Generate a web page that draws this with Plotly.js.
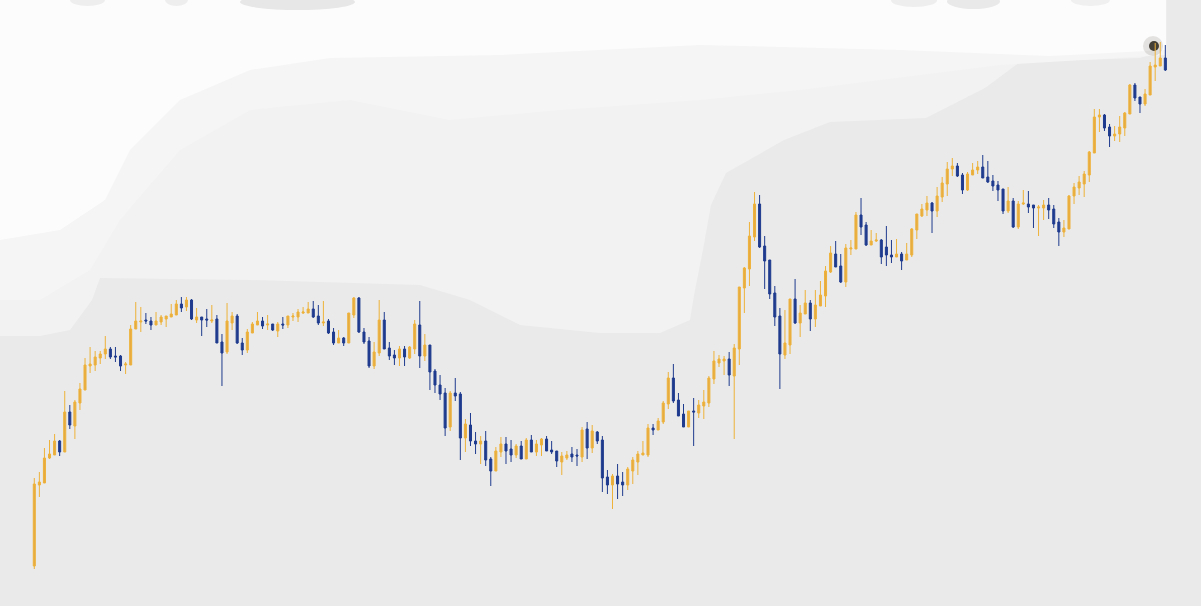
<!DOCTYPE html>
<html>
<head>
<meta charset="utf-8">
<script src="https://cdn.plot.ly/plotly-3.0.1.min.js"></script>
<style>html,body{margin:0;padding:0;background:#e9eae9;}#chart{width:1201px;height:606px;}</style>
</head>
<body>
<div id="chart"></div>
<script>
const open = [40,121,123,148,151,165,154,194,180,203,216,240,241,248,252,257,250,250,241,241,277,284,286,285,281,284,287,289,291,302,299,306,286,289,287,285,287,264,254,283,290,263,256,273,281,285,281,282,275,282,281,289,289,293,293,297,290,283,285,274,263,268,263,291,308,274,265,240,253,286,258,251,248,257,248,257,281,250,261,235,221,213,179,213,212,168,181,165,162,165,147,135,154,162,157,151,160,147,166,154,161,167,156,155,144,148,152,151,149,177,158,174,166,129,121,130,124,121,135,144,151,151,178,176,184,202,228,206,192,179,195,193,200,203,227,243,245,247,230,257,318,337,369,402,360,346,313,290,251,261,307,283,292,303,287,300,310,334,352,340,324,357,357,391,381,361,365,366,359,351,349,352,346,351,376,390,396,403,395,409,422,437,440,431,416,431,436,439,429,425,421,417,395,405,379,402,402,401,398,398,401,397,384,374,377,410,418,422,431,453,489,491,479,470,472,478,492,521,509,502,511,539,540,548];
const high = [128,134,158,166,172,166,215,201,206,223,248,259,255,255,270,259,259,251,244,281,304,299,293,289,294,291,290,302,306,309,309,307,298,289,297,301,291,272,303,294,292,268,277,284,294,289,291,282,284,289,290,293,297,299,304,305,301,305,287,278,276,269,293,309,309,278,269,264,306,294,264,256,260,260,260,286,305,272,261,237,231,218,215,228,214,187,193,174,170,175,149,159,169,169,166,162,165,168,171,166,168,170,165,155,154,155,159,157,179,184,181,175,170,136,132,142,134,139,149,155,165,182,182,188,205,234,242,213,202,195,208,206,216,230,255,251,250,254,262,319,339,384,414,411,370,346,320,298,296,307,327,301,316,306,316,325,340,360,365,352,362,366,394,408,384,376,373,367,380,366,367,354,363,378,392,402,410,404,419,429,444,448,443,433,434,443,445,451,445,431,425,417,419,408,405,416,415,401,401,406,408,401,388,386,411,423,430,435,455,497,497,492,482,480,490,494,522,523,509,517,544,563,564,561];
const low = [37,109,123,147,151,150,154,177,167,196,216,233,235,242,247,247,244,235,232,241,277,274,282,276,281,281,279,289,291,294,295,286,283,270,279,283,263,220,252,276,262,251,253,273,281,277,276,275,269,277,278,285,284,292,293,288,281,280,272,261,263,260,263,288,273,262,238,237,250,257,246,241,240,240,247,252,238,245,216,213,206,170,175,205,146,154,160,152,142,140,120,135,149,142,144,148,147,147,154,150,150,155,152,139,131,146,144,140,144,147,153,162,114,112,97,107,110,116,122,131,151,149,171,176,182,197,203,190,179,179,160,188,187,199,222,239,231,220,167,241,293,320,365,358,317,307,280,217,247,252,282,269,292,275,279,300,299,333,339,323,319,351,357,371,360,361,364,342,340,343,349,336,346,349,367,389,390,373,389,404,410,430,429,412,415,431,432,428,423,415,405,392,393,378,377,401,393,378,370,386,387,378,360,369,377,402,411,409,424,453,474,475,459,465,464,470,492,505,493,500,511,525,540,535];
const close = [122,124,148,152,165,154,194,181,204,217,241,242,249,252,257,249,249,240,242,277,285,285,285,281,285,289,290,292,302,298,306,287,289,286,286,286,263,253,285,290,263,256,274,282,285,280,282,276,282,281,290,290,294,294,297,289,283,284,273,263,268,263,293,308,274,264,240,254,286,257,250,248,257,249,259,282,250,261,234,221,212,178,213,210,168,182,165,162,165,146,135,155,162,155,151,160,147,166,154,162,167,155,154,145,150,151,149,150,176,158,175,165,128,121,130,122,121,137,146,152,153,178,176,185,203,228,205,190,179,195,194,201,204,228,245,247,247,231,258,319,338,370,402,359,345,312,289,252,263,307,283,293,303,287,301,311,335,353,339,324,358,358,391,379,361,365,366,349,351,349,352,345,352,377,392,397,403,395,410,423,437,440,430,416,432,436,439,428,424,420,416,395,405,379,402,403,399,398,399,401,396,382,374,378,410,419,424,432,454,489,491,478,470,472,479,493,521,508,502,512,540,541,548,536];
const bars = open.map((_, i) => i);

const upFill = '#e5aa42', upLine = '#eeb23a';
const downFill = '#1f3b8e', downLine = '#1f3b8e';

function P(pts){ // pixel-space outline -> paper path for decorative background
  return 'M ' + pts.map(p => (p[0]/1201).toFixed(4) + ',' + (1 - p[1]/606).toFixed(4)).join(' L ') + ' Z';
}
function blur(x0, x1, y1, a){
  return {type:'circle', xref:'paper', yref:'paper', layer:'below', line:{width:0},
    fillcolor:'rgba(160,160,160,' + a + ')', x0:x0/1201, x1:x1/1201, y0:1-y1/606, y1:1+6/606};
}
const shapes = [
  {type:'path', xref:'paper', yref:'paper', layer:'below', line:{width:0}, fillcolor:'#f2f2f2',
   path:P([[0,0],[1166,0],[1166,50],[1140,58],[1020,62],[985,88],[926,118],[830,122],[784,140],[726,173],[711,205],[703,250],[694,295],[690,320],[660,333],[600,333],[520,325],[470,300],[420,285],[250,280],[100,278],[92,300],[70,330],[40,336],[0,336]])},
  {type:'path', xref:'paper', yref:'paper', layer:'below', line:{width:0}, fillcolor:'#f5f5f5',
   path:P([[0,0],[1166,0],[1166,55],[1000,65],[800,90],[700,100],[560,110],[450,120],[350,100],[250,110],[180,150],[120,220],[90,270],[40,300],[0,300]])},
  {type:'path', xref:'paper', yref:'paper', layer:'below', line:{width:0}, fillcolor:'#fcfcfc',
   path:P([[0,0],[1166,0],[1166,50],[1050,56],[900,50],[700,45],[500,55],[330,58],[250,70],[180,100],[130,150],[105,200],[60,230],[0,240]])},
  blur(240, 355, 10, 0.22), blur(70, 105, 6, 0.15), blur(165, 188, 6, 0.15),
  blur(891, 937, 7, 0.15), blur(947, 1000, 9, 0.2), blur(1071, 1110, 6, 0.12),
  {type:'circle', xref:'paper', yref:'paper', layer:'below', line:{width:0}, fillcolor:'rgba(120,110,100,0.18)', x0:1143/1201, x1:1163/1201, y0:1-56/606, y1:1-36/606},
  {type:'circle', xref:'paper', yref:'paper', layer:'below', line:{width:0}, fillcolor:'rgba(40,34,24,0.85)', x0:1149/1201, x1:1159/1201, y0:1-51/606, y1:1-41/606}
];

const trace = {
  type: 'candlestick',
  x: bars, open: open, high: high, low: low, close: close,
  increasing: {line: {color: upLine, width: 1}, fillcolor: upFill},
  decreasing: {line: {color: downLine, width: 1}, fillcolor: downFill},
  whiskerwidth: 0,
  hoverinfo: 'skip',
  showlegend: false
};

const layout = {
  width: 1201, height: 606,
  margin: {l: 0, r: 0, t: 0, b: 0, pad: 0},
  paper_bgcolor: '#e9eae9',
  plot_bgcolor: 'rgba(0,0,0,0)',
  showlegend: false,
  boxgap: 0.3, boxgroupgap: 0.43,
  xaxis: {range: [-6.763, 230.03], visible: false, rangeslider: {visible: false}, fixedrange: true},
  yaxis: {range: [0, 606], visible: false, fixedrange: true},
  shapes: shapes
};

Plotly.newPlot('chart', [trace], layout, {staticPlot: true, displayModeBar: false});
</script>
</body>
</html>
